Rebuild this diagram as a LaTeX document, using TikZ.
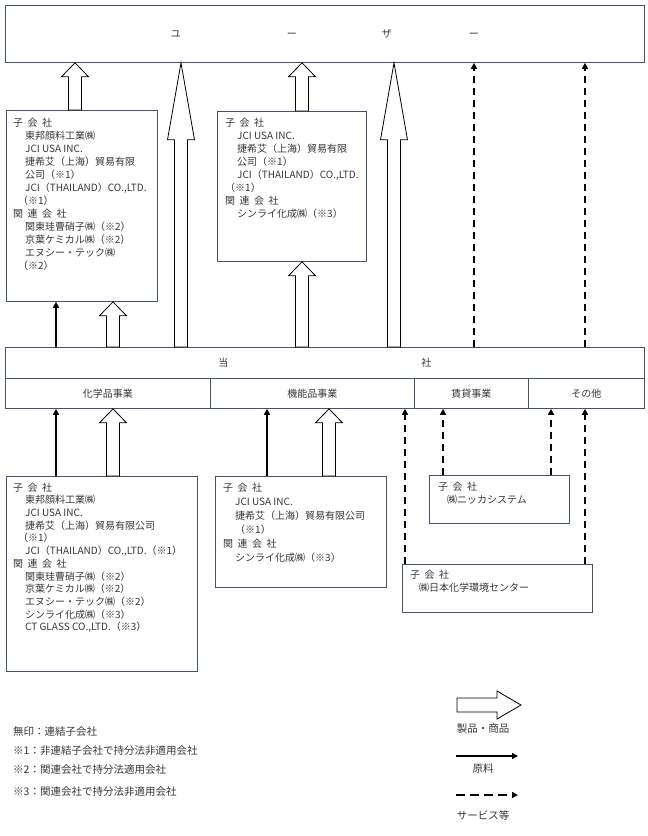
\documentclass[tikz,border=0pt]{standalone}
\usepackage{fontspec}
\setmainfont{Noto Sans CJK JP}
\usetikzlibrary{positioning,calc,arrows.meta}
\definecolor{boxLine}{RGB}{68,84,106}
\definecolor{txtGray}{RGB}{55,55,55}
\newcommand{\subInd}{\hspace*{12pt}}
\newcommand{\halfInd}{\hspace*{5pt}}
\tikzset{
    unitBox/.style={draw=boxLine, line width=0.8pt, fill=white, inner sep=0pt, anchor=north west, text=txtGray, font=\fontsize{10}{13}\selectfont},
    boxText/.style={anchor=north west, align=left, inner sep=0pt, text=txtGray, font=\fontsize{10}{13}\selectfont},
    noteText/.style={anchor=west, inner sep=0pt, text=txtGray, font=\fontsize{10.5}{13}\selectfont},
    rawArrow/.style={line width=1.6pt, -{Triangle[length=6pt,width=6pt]}},
    svcArrow/.style={line width=2pt, dash pattern=on 7pt off 5pt, -{Triangle[length=6pt,width=6pt]}},
    prodArrow/.style={draw=black, fill=white, line width=0.8pt, to path={
        let \p1=(\tikztostart), \p2=(\tikztotarget) in
        (\x1-6.5pt,\y1) -- (\x1-6.5pt,\y2-#1) -- (\x1-13.5pt,\y2-#1) -- (\x1,\y2)
        -- (\x1+13.5pt,\y2-#1) -- (\x1+6.5pt,\y2-#1) -- (\x1+6.5pt,\y1) -- cycle}},
    prodArrow/.default=14pt
}
\tikzset{
    prodSymbol/.pic={
		\draw[black, fill=white, line width=0.8pt] (0,7) -- (40,7) -- (40,14) -- (64,0) -- (40,-14) -- (40,-7) -- (0,-7) -- cycle;
	}
}
\begin{document}
\begin{tikzpicture}[x=1pt,y=1pt]
			\fill[white] (0,0) rectangle (648,-836);
			\useasboundingbox (0,0) rectangle (648,-836);
			% boxes
			\node[unitBox, minimum width=639pt, minimum height=57pt] (user) at (5,-5) {ユ\hspace{106pt}ー\hspace{85pt}ザ\hspace{77pt}ー};
			\node[unitBox, minimum width=151pt, minimum height=191pt] (sub1) at (6,-110) {};
			\node[unitBox, minimum width=149pt, minimum height=150pt] (sub2) at (217,-111) {};
			\node[unitBox, minimum width=639pt, minimum height=31pt] (corp) at (5,-347) {当\hspace{193pt}社};
			\node[unitBox, minimum width=205pt, minimum height=30pt] (chem) at (5,-378) {化学品事業};
			\node[unitBox, minimum width=204pt, minimum height=30pt] (func) at (210,-378) {機能品事業};
			\node[unitBox, minimum width=114pt, minimum height=30pt] (rent) at (414,-378) {賃貸事業};
			\node[unitBox, minimum width=116pt, minimum height=30pt] (other) at (528,-378) {その他};
			\node[unitBox, minimum width=191pt, minimum height=195pt] (sub3) at (6,-476) {};
			\node[unitBox, minimum width=171pt, minimum height=111pt] (sub4) at (215,-476) {};
			\node[unitBox, minimum width=140pt, minimum height=48pt] (sub5) at (429,-475) {};
			\node[unitBox, minimum width=190pt, minimum height=48pt] (sub6) at (402,-564) {};
			% box texts
			\node[boxText] (sub1t) at ([xshift=7pt,yshift=-7.5pt]sub1.north west) {子\hspace{4.5pt}会\hspace{4.5pt}社\\
				\subInd 東邦顔料工業㈱\\
				\subInd JCI USA INC.\\
				\subInd 捷希艾（上海）貿易有限\\
				\subInd 公司（※1）\\
				\subInd JCI（THAILAND）CO.,LTD.\\
				\halfInd（※1）\\
				関\hspace{4.5pt}連\hspace{4.5pt}会\hspace{4.5pt}社\\
				\subInd 関東珪曹硝子㈱（※2）\\
				\subInd 京葉ケミカル㈱（※2）\\
				\subInd エヌシー・テック㈱\\
				\halfInd（※2）};
			\node[boxText] (sub2t) at ([xshift=8pt,yshift=-6.5pt]sub2.north west) {子\hspace{4.5pt}会\hspace{4.5pt}社\\
				\subInd JCI USA INC.\\
				\subInd 捷希艾（上海）貿易有限\\
				\subInd 公司（※1）\\
				\subInd JCI（THAILAND）CO.,LTD.\\
				（※1）\\
				関\hspace{4.5pt}連\hspace{4.5pt}会\hspace{4.5pt}社\\
				\subInd シンライ化成㈱（※3）};
			\node[boxText, font=\fontsize{10}{12.7}\selectfont] (sub3t) at ([xshift=7pt,yshift=-6.5pt]sub3.north west) {子\hspace{4.5pt}会\hspace{4.5pt}社\\
				\subInd 東邦顔料工業㈱\\
				\subInd JCI USA INC.\\
				\subInd 捷希艾（上海）貿易有限公司\\
				\halfInd（※1）\\
				\subInd JCI（THAILAND）CO.,LTD.（※1）\\
				関\hspace{4.5pt}連\hspace{4.5pt}会\hspace{4.5pt}社\\
				\subInd 関東珪曹硝子㈱（※2）\\
				\subInd 京葉ケミカル㈱（※2）\\
				\subInd エヌシー・テック㈱（※2）\\
				\subInd シンライ化成㈱（※3）\\
				\subInd CT GLASS CO.,LTD.（※3）};
			\node[boxText, font=\fontsize{10}{14}\selectfont] (sub4t) at ([xshift=8pt,yshift=-6.5pt]sub4.north west) {子\hspace{4.5pt}会\hspace{4.5pt}社\\
				\subInd JCI USA INC.\\
				\subInd 捷希艾（上海）貿易有限公司\\
				\subInd（※1）\\
				関\hspace{4.5pt}連\hspace{4.5pt}会\hspace{4.5pt}社\\
				\subInd シンライ化成㈱（※3）};
			\node[boxText] (sub5t) at ([xshift=9pt,yshift=-6.5pt]sub5.north west) {子\hspace{4.5pt}会\hspace{4.5pt}社\\
				\hspace*{9pt}㈱ニッカシステム};
			\node[boxText] (sub6t) at ([xshift=8pt,yshift=-6pt]sub6.north west) {子\hspace{4.5pt}会\hspace{4.5pt}社\\
				\hspace*{9pt}㈱日本化学環境センター};
			% arrow columns
			\coordinate (colRawL) at (56,0);
			\coordinate (colProdL) at (113,0);
			\coordinate (colUpL) at (75,0);
			\coordinate (colTallL) at (181,0);
			\coordinate (colProdM) at (302,0);
			\coordinate (colTallR) at (394,0);
			\coordinate (colSvcA) at (474,0);
			\coordinate (colSvcB) at (585,0);
			\coordinate (colRawM) at (267,0);
			\coordinate (colProdMB) at (329,0);
			\coordinate (colSvcC) at (405,0);
			\coordinate (colSvcD) at (443,0);
			\coordinate (colSvcE) at (551,0);
			% upper arrows
			\draw[rawArrow] (corp.north -| colRawL) -- (sub1.south -| colRawL);
			\path[prodArrow] (corp.north -| colProdL) to (sub1.south -| colProdL);
			\path[prodArrow] (sub1.north -| colUpL) to (user.south -| colUpL);
			\path[prodArrow=77pt] (corp.north -| colTallL) to (user.south -| colTallL);
			\path[prodArrow] (corp.north -| colProdM) to (sub2.south -| colProdM);
			\path[prodArrow] (sub2.north -| colProdM) to (user.south -| colProdM);
			\path[prodArrow=77pt] (corp.north -| colTallR) to (user.south -| colTallR);
			\draw[svcArrow] (corp.north -| colSvcA) -- (user.south -| colSvcA);
			\draw[svcArrow] (corp.north -| colSvcB) -- (user.south -| colSvcB);
			% lower arrows
			\draw[rawArrow] (sub3.north -| colRawL) -- (chem.south -| colRawL);
			\path[prodArrow] (sub3.north -| colProdL) to (chem.south -| colProdL);
			\draw[rawArrow] (sub4.north -| colRawM) -- (func.south -| colRawM);
			\path[prodArrow] (sub4.north -| colProdMB) to (func.south -| colProdMB);
			\draw[svcArrow] (sub6.north -| colSvcC) -- (func.south -| colSvcC);
			\draw[svcArrow] (sub5.north -| colSvcD) -- (rent.south -| colSvcD);
			\draw[svcArrow] (sub5.north -| colSvcE) -- (other.south -| colSvcE);
			\draw[svcArrow] (sub6.north -| colSvcB) -- (other.south -| colSvcB);
			% notes
			\node[noteText] (note0) at (13,-732) {無印：連結子会社};
			\node[noteText] (note1) at (13,-751) {※1：非連結子会社で持分法非適用会社};
			\node[noteText] (note2) at (13,-770) {※2：関連会社で持分法適用会社};
			\node[noteText] (note3) at (13,-792) {※3：関連会社で持分法非適用会社};
			% legend
			\pic at (457,-705) {prodSymbol};
			\node[noteText, anchor=center] (legProd) at (483,-729) {製品・商品};
			\coordinate (legRawS) at (456,-756);
			\coordinate (legRawE) at (518,-756);
			\draw[rawArrow] (legRawS) -- (legRawE);
			\node[noteText, anchor=center] (legRaw) at (483,-769) {原料};
			\coordinate (legSvcS) at (456,-795);
			\coordinate (legSvcE) at (518,-795);
			\draw[svcArrow, dash pattern=on 9pt off 5pt] (legSvcS) -- (legSvcE);
			\node[noteText, anchor=center] (legSvc) at (483,-815) {サービス等};
		\end{tikzpicture}
\end{document}
